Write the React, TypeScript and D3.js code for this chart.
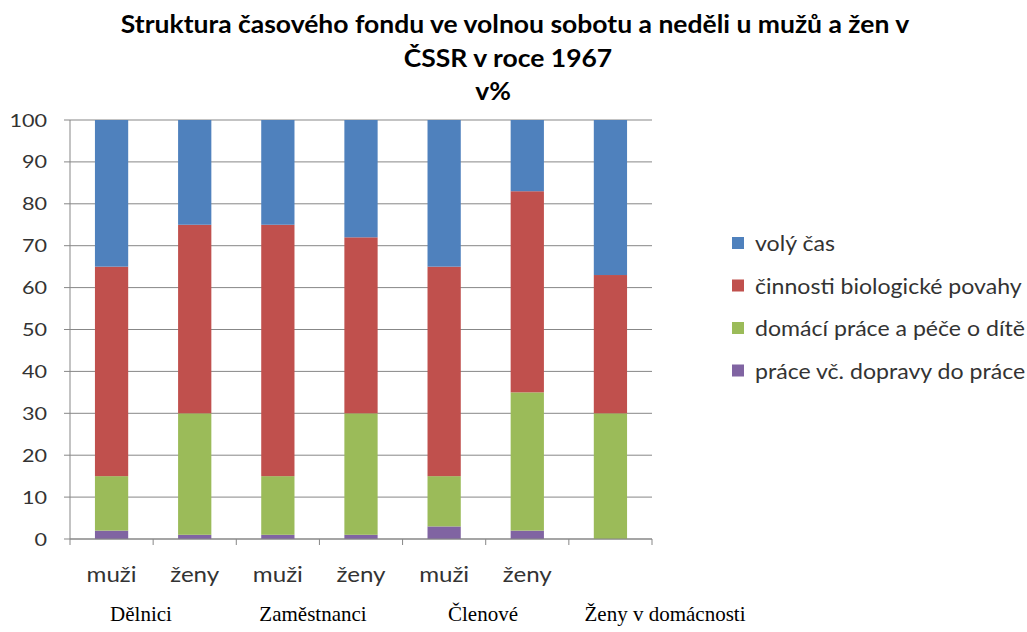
import * as d3 from 'd3';

const groups = ['Dělnici', 'Zaměstnanci', 'Členové', 'Ženy v domácnosti'];
const categories = ['Dělnici muži', 'Dělnici ženy', 'Zaměstnanci muži', 'Zaměstnanci ženy', 'Členové muži', 'Členové ženy', 'Ženy v domácnosti'];
const categoryLabels = ['muži', 'ženy', 'muži', 'ženy', 'muži', 'ženy', ''];

const series = ['práce vč. dopravy do práce', 'domácí práce a péče o dítě', 'činnosti biologické povahy', 'volý čas'];
const prace = [2, 1, 1, 1, 3, 2, 0];
const domaci = [13, 29, 14, 29, 12, 33, 30];
const biolog = [50, 45, 60, 42, 50, 48, 33];
const volny = [35, 25, 25, 28, 35, 17, 37];
const colors = ['#8064A2', '#9BBB59', '#C0504D', '#4F81BD'];
const yTicks = [0, 10, 20, 30, 40, 50, 60, 70, 80, 90, 100];

const W = 1027, H = 632;
const left = 70, right = 652, top = 120, bottom = 539;
const font = 'Lato, "Open Sans", sans-serif';
const serif = '"Liberation Serif", "Times New Roman", serif';
// the group captions sit under the chart as loose text
const groupX = [141, 313, 483, 665];

function Txt({ x, y, sx = 1, anchor = 'start', children, ...rest }: any) {
  return (
    <text transform={`translate(${x},${y}) scale(${sx},1)`} textAnchor={anchor} {...rest}>{children}</text>
  );
}

export default function App() {
  const rows = categories.map((c, i) => ({ cat: c, s0: prace[i], s1: domaci[i], s2: biolog[i], s3: volny[i] }));
  const stacked = d3.stack<any>().keys(['s0', 's1', 's2', 's3'])(rows);
  const x = d3.scaleBand().domain(categories).range([left, right]).paddingInner(0.6).paddingOuter(0.3);
  const band = d3.scaleBand().domain(categories).range([left, right]);
  const y = d3.scaleLinear().domain([0, 100]).range([bottom, top]);
  const legendOrder = [3, 2, 1, 0];

  return (
    <svg width={W} height={H} style={{ position: 'absolute', left: 0, top: 0 }}>
      <rect width={W} height={H} fill="#fff" />
      <g fontFamily={font} fontWeight="bold" fontSize={25} fill="#000">
        <Txt x={515} y={33} sx={1.06} anchor="middle">Struktura časového fondu ve volnou sobotu a neděli u mužů a žen v</Txt>
        <Txt x={508} y={67} sx={1.06} anchor="middle">ČSSR v roce 1967</Txt>
        <Txt x={493} y={100} sx={1.06} anchor="middle">v%</Txt>
      </g>
      {yTicks.map(t => (
        <g key={t}>
          <line x1={left - 6} x2={right} y1={y(t)} y2={y(t)} stroke="#878787" strokeWidth={1} />
          <Txt x={47} y={y(t) + 6.5} sx={1.2} anchor="end" fontFamily={font} fontSize={18} fill="#333">{t}</Txt>
        </g>
      ))}
      {stacked.map((s, si) => (
        <g key={si} fill={colors[si]}>
          {s.map((d, i) => (
            <rect key={i} x={x(categories[i])} width={x.bandwidth()} y={y(d[1])} height={y(d[0]) - y(d[1])} />
          ))}
        </g>
      ))}
      <line x1={left} x2={left} y1={top} y2={bottom} stroke="#878787" />
      <line x1={left} x2={right} y1={bottom} y2={bottom} stroke="#878787" />
      {categories.map(c => (
        <line key={c} x1={band(c)!} x2={band(c)!} y1={bottom} y2={bottom + 6} stroke="#878787" />
      ))}
      <line x1={right} x2={right} y1={bottom} y2={bottom + 6} stroke="#878787" />
      {categories.map((c, i) => (
        <Txt key={c} x={band(c)! + band.bandwidth() / 2} y={582} sx={1.15} anchor="middle" fontFamily={font} fontSize={21} fill="#333">{categoryLabels[i]}</Txt>
      ))}
      {groups.map((g, gi) => (
        <text key={g} x={groupX[gi]} y={621} textAnchor="middle" fontFamily={serif} fontSize={21} fill="#000">{g}</text>
      ))}
      {legendOrder.map((si, k) => (
        <g key={si} transform={`translate(732, ${237 + k * 42.5})`}>
          <rect width={12} height={12} fill={colors[si]} />
          <Txt x={23} y={14} sx={1.05} fontFamily={font} fontSize={22} fill="#333">{series[si]}</Txt>
        </g>
      ))}
    </svg>
  );
}
